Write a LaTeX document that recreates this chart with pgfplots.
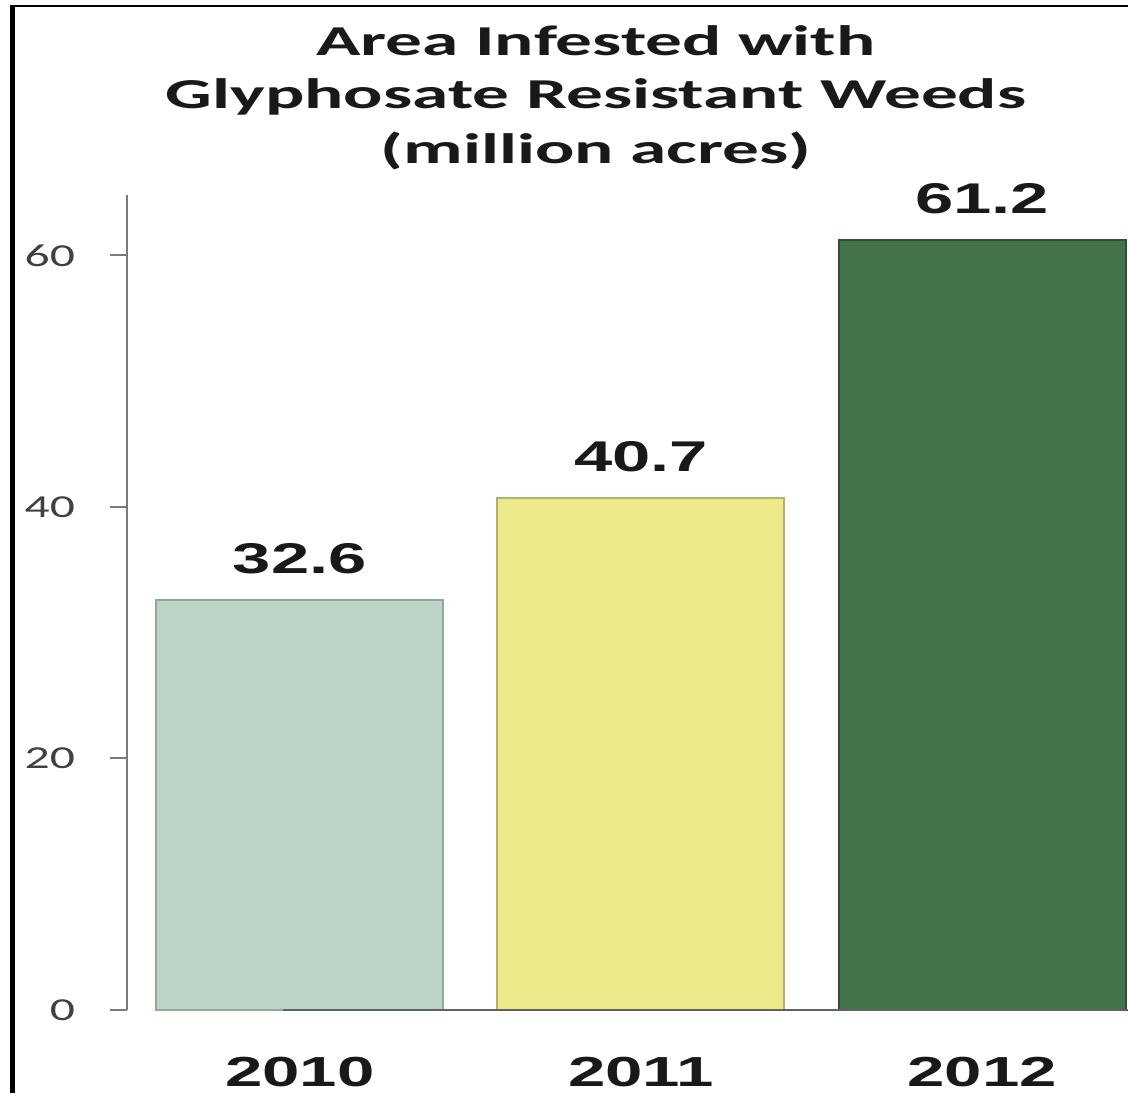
\documentclass[border=0pt]{standalone}
\usepackage{pgfplots}
\pgfplotsset{compat=1.18}
\usepackage{fontspec}
\newfontfamily\titlefont{Carlito}[FakeStretch=1.72]
\newfontfamily\numfont{Liberation Sans}[FakeStretch=1.6]
\newfontfamily\tickfont{Carlito}[FakeStretch=1.55]
\definecolor{c2010}{HTML}{BCD3C5}
\definecolor{c2010e}{HTML}{8FA89A}
\definecolor{c2011}{HTML}{ECE98B}
\definecolor{c2011e}{HTML}{B5B266}
\definecolor{c2012}{HTML}{42734A}
\definecolor{c2012e}{HTML}{2C5233}
\definecolor{axgray}{HTML}{7A7A7A}
\begin{document}
\begin{tikzpicture}
\useasboundingbox (0,0) rectangle (564pt,-546.5pt);
% frame
\draw[black, line width=2.2pt] (6.25pt,-546.5pt) -- (6.25pt,-3pt);
\draw[black, line width=1.3pt] (5.2pt,-3pt) -- (564pt,-3pt);
% title
\node[anchor=base, inner sep=0, font=\titlefont\bfseries\fontsize{21.3}{25}\selectfont, text=black!90] at (298pt,-27.5pt) {Area Infested with};
\node[anchor=base, inner sep=0, font=\titlefont\bfseries\fontsize{21.3}{25}\selectfont, text=black!90] at (298pt,-54pt) {Glyphosate Resistant Weeds};
\node[anchor=base, inner sep=0, font=\titlefont\bfseries\fontsize{21.3}{25}\selectfont, text=black!90] at (298pt,-81.5pt) {(million acres)};
\begin{axis}[
  at={(63.5pt,-505pt)}, anchor=south west,
  scale only axis, width=500.5pt, height=407.5pt,
  xmin=-0.507, xmax=2.428, ymin=0, ymax=64.8,
  axis x line=none,
  axis y line*=left,
  y axis line style={axgray, line width=1pt, -},
  ytick={0,20,40,60},
  tick align=outside,
  major tick length=8.5pt,
  y tick style={axgray, line width=1pt},
  yticklabel style={font=\tickfont\fontsize{16}{18}\selectfont, text=black!75, xshift=-14pt},
  /pgf/number format/assume math mode=true,
  /pgf/number format/fixed, /pgf/number format/precision=1,
  ybar, bar width=143.5pt,
  nodes near coords,
  nodes near coords style={font=\numfont\bfseries\fontsize{21.5}{24}\selectfont, text=black!90, anchor=south, inner sep=0pt, yshift=12.5pt},
  clip=false,
]
\addplot[bar shift=0pt, fill=c2010, draw=c2010e, line width=1pt] coordinates {(0,32.6)};
\addplot[bar shift=0pt, fill=c2011, draw=c2011e, line width=1pt] coordinates {(1,40.7)};
\addplot[bar shift=0pt, fill=c2012, draw=c2012e, line width=1pt] coordinates {(2,61.2)};
\draw[axgray!80!black, line width=1.2pt] (axis cs:-0.507,0) ++(-8.5pt,0) -- (axis cs:2.428,0);
\node[anchor=north, inner sep=0, font=\numfont\bfseries\fontsize{21}{24}\selectfont, text=black!90, yshift=-23.5pt] at (axis cs:0,0) {2010};
\node[anchor=north, inner sep=0, font=\numfont\bfseries\fontsize{21}{24}\selectfont, text=black!90, yshift=-23.5pt] at (axis cs:1,0) {2011};
\node[anchor=north, inner sep=0, font=\numfont\bfseries\fontsize{21}{24}\selectfont, text=black!90, yshift=-23.5pt] at (axis cs:2,0) {2012};
\end{axis}
\end{tikzpicture}
\end{document}
